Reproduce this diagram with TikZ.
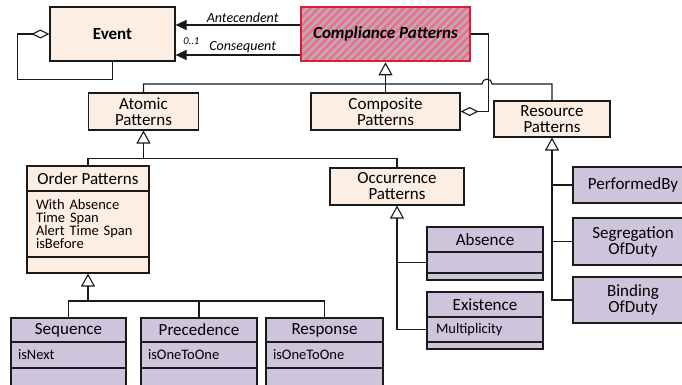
\documentclass[tikz,border=0pt]{standalone}
\usepackage{fontspec}
\setmainfont{Carlito}
\usetikzlibrary{arrows.meta,patterns.meta}

\definecolor{peachc}{HTML}{FDEEE4}
\definecolor{lavc}{HTML}{CEC4DC}
\definecolor{hotpink}{HTML}{F06C90}
\definecolor{hatchgray}{HTML}{B9AEB4}
\definecolor{redline}{HTML}{D9202E}
\definecolor{inkc}{HTML}{1A1A1A}

\newcommand{\titlefont}{\fontsize{17}{16}\selectfont}
\newcommand{\attrfont}{\fontsize{14.5}{13.3}\selectfont}
\newcommand{\rolefont}{\fontsize{14}{14}\selectfont\itshape}

\begin{document}
\begin{tikzpicture}[x=1pt,y=-1pt,
  box/.style={draw=inkc, line width=1.1pt, inner sep=0pt, align=center, font=\titlefont},
  peach/.style={box, fill=peachc},
  lav/.style={box, fill=lavc},
  attrbox/.style={align=left, font=\attrfont, inner xsep=#1},
  link/.style={line width=1.1pt, draw=inkc},
  gen/.style={link, -{Triangle[open, length=13pt, width=14pt, line width=1.1pt]}},
  agg/.style={link, -{Diamond[open, length=18pt, width=9pt, line width=1.1pt]}},
  assoc/.style={link, -{Triangle[length=11pt, width=10pt]}},
]
\clip (0,0) rectangle (682,385);

% top level classes
\node[peach, minimum width=125pt, minimum height=54pt, font=\titlefont\bfseries] (event) at (112.5,34) {Event};
\node[box, draw=redline, preaction={fill=hotpink},
      pattern={Lines[angle=45, distance=5.5pt, line width=2.6pt]}, pattern color=hatchgray,
      minimum width=169pt, minimum height=54pt, font=\titlefont\bfseries\itshape] (comp) at (385.5,34) {Compliance Patterns};

\node[peach, minimum width=110pt, minimum height=37pt] (atomic) at (143.5,111.5) {Atomic\\Patterns};
\node[peach, minimum width=149pt, minimum height=37pt] (compo) at (385.5,111.5) {Composite\\Patterns};
\node[peach, minimum width=116pt, minimum height=36pt] (resource) at (552,119) {Resource\\Patterns};

% order patterns
\node[peach, minimum width=122pt, minimum height=25pt] (ord) at (88,178.5) {Order Patterns};
\node[peach, attrbox=9pt, text width=104pt, minimum height=66pt] (ord-a) at (88,224) {With Absence\\Time Span\\Alert Time Span\\isBefore};
\node[peach, minimum width=122pt, minimum height=16pt] (ord-b) at (88,265) {};

\node[peach, minimum width=134pt, minimum height=37pt] (occ) at (397,186.5) {Occurrence\\Patterns};

% concrete order patterns
\node[lav, minimum width=115pt, minimum height=24pt] (seq) at (68.5,330) {Sequence};
\node[lav, attrbox=7pt, text width=101pt, minimum height=26pt] (seq-a) at (68.5,355) {isNext};
\node[lav, minimum width=115pt, minimum height=20pt] (seq-b) at (68.5,378) {};

\node[lav, minimum width=116pt, minimum height=24pt] (prec) at (199,330) {Precedence};
\node[lav, attrbox=7pt, text width=102pt, minimum height=26pt] (prec-a) at (199,355) {isOneToOne};
\node[lav, minimum width=116pt, minimum height=20pt] (prec-b) at (199,378) {};

\node[lav, minimum width=117pt, minimum height=24pt] (resp) at (324.5,330) {Response};
\node[lav, attrbox=7pt, text width=103pt, minimum height=26pt] (resp-a) at (324.5,355) {isOneToOne};
\node[lav, minimum width=117pt, minimum height=20pt] (resp-b) at (324.5,378) {};

% occurrence patterns
\node[lav, minimum width=116pt, minimum height=25pt] (abs) at (485,239.5) {Absence};
\node[lav, minimum width=116pt, minimum height=21pt] (abs-a) at (485,262.5) {};
\node[lav, minimum width=116pt, minimum height=7pt] (abs-b) at (485,276.5) {};

\node[lav, minimum width=116pt, minimum height=25pt] (exi) at (485,304.5) {Existence};
\node[lav, attrbox=9pt, text width=98pt, minimum height=25pt] (exi-a) at (485,329.5) {Multiplicity};
\node[lav, minimum width=116pt, minimum height=7pt] (exi-b) at (485,345.5) {};

% resource patterns
\node[lav, minimum width=120pt, minimum height=36pt] (perf) at (633,185) {PerformedBy};
\node[lav, minimum width=120pt, minimum height=47pt] (seg) at (633,241.5) {Segregation\\OfDuty};
\node[lav, minimum width=120pt, minimum height=46pt] (bind) at (633,300) {Binding\\OfDuty};

% associations between compliance patterns and events
\draw[assoc] ([yshift=9pt]comp.west) -- node[above, inner sep=1.5pt, xshift=5pt, font=\rolefont] {Antecendent} ([yshift=9pt]event.east);
\draw[assoc] ([yshift=-21pt]comp.west) -- node[above, inner sep=1.5pt, xshift=5pt, font=\rolefont] {Consequent}
  node[pos=0.873, above=10pt, inner sep=0pt, font=\fontsize{10.5}{10}\selectfont\itshape] {0..1} ([yshift=-21pt]event.east);

% event self aggregation
\draw[agg] (event.south) -- ++(0,18) -| ([xshift=-32pt]event.west) -- (event.west);

% composite aggregates compliance patterns
\draw[agg] (comp.east) -- ++(17,0) |- (compo.east);

% generalisation tree under compliance patterns (with a hop over the aggregation line)
\draw[link] (resource.north) |- (492,84) arc[start angle=0, end angle=180, radius=5pt] -| (atomic.north);
\draw[gen] (compo.north) -- (comp.south);

% atomic patterns tree
\coordinate (j1) at (143.5,159);
\draw[link] (ord.north) -- ++(0,-7) -| (occ.north);
\draw[gen] (j1) -- (atomic.south);

% order patterns tree
\coordinate (j2) at (88,301);
\draw[gen] (j2) -- (ord-b.south);
\draw[link] (seq.north) -- (seq.north |- j2) -- (resp.north |- j2) -- (resp.north);
\draw[link] (prec.north) -- (prec.north |- j2);

% occurrence patterns tree
\draw[gen] (exi-a.west) -| (occ.south);
\draw[link] (abs-a.west) -- (abs-a.west -| occ.south);

% resource patterns tree
\draw[gen] (bind.west) -| (resource.south);
\draw[link] (perf.west) -- (perf.west -| resource.south);
\draw[link] (seg.west) -- (seg.west -| resource.south);
\end{tikzpicture}
\end{document}
